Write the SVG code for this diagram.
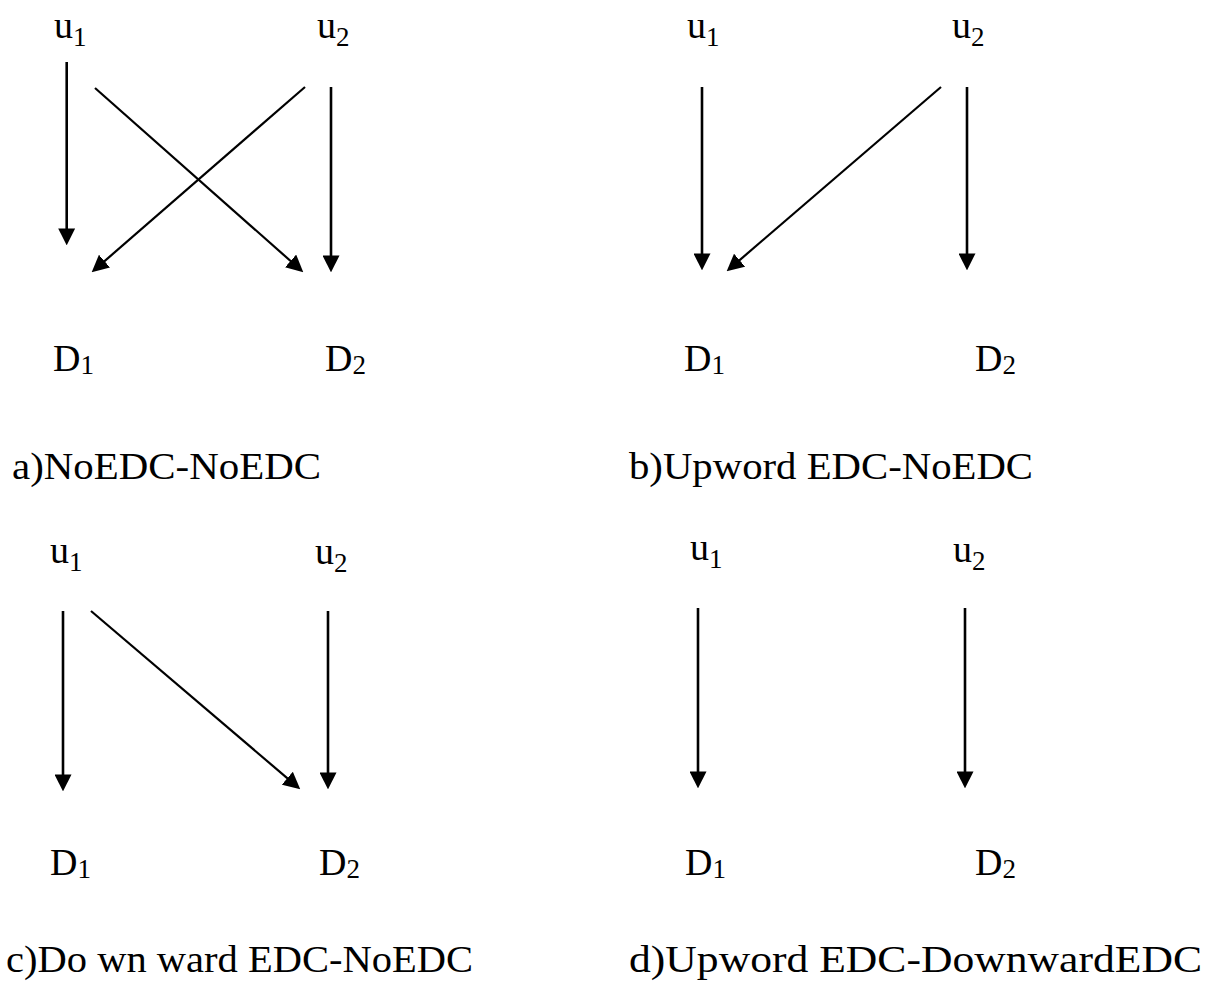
<svg xmlns="http://www.w3.org/2000/svg" width="1205" height="981" viewBox="0 0 1205 981">
<style>
text{font-family:"Liberation Serif","Times New Roman",serif;fill:#000}
.lbl{font-size:38px}
.sub{font-size:27px}
.cap{font-size:38px}
.v{stroke:#000;stroke-width:2.6;fill:none;marker-end:url(#ah)}
.d{stroke:#000;stroke-width:2.2;fill:none;marker-end:url(#ah)}
</style>
<defs>
<marker id="ah" viewBox="0 0 16 16" refX="10" refY="8" markerWidth="17" markerHeight="17" markerUnits="userSpaceOnUse" orient="auto">
<path d="M0,0 L16,8 L0,16 z" fill="#000"/>
</marker>
</defs>
<rect width="1205" height="981" fill="#fff"/>
<g id="connectors">
<line class="v" x1="66.7" y1="62" x2="66.7" y2="239"/>
<line class="d" x1="95" y1="88" x2="298.5" y2="268"/>
<line class="d" x1="305" y1="87" x2="96.5" y2="268.1"/>
<line class="v" x1="331" y1="87" x2="331" y2="266"/>
<line class="v" x1="702" y1="87" x2="702" y2="264"/>
<line class="d" x1="941" y1="87" x2="731.5" y2="267.1"/>
<line class="v" x1="967" y1="87" x2="967" y2="264"/>
<line class="v" x1="63" y1="611" x2="63" y2="785"/>
<line class="d" x1="91" y1="611" x2="295.4" y2="785.1"/>
<line class="v" x1="328" y1="611" x2="328" y2="783"/>
<line class="v" x1="698" y1="608" x2="698" y2="782"/>
<line class="v" x1="965" y1="608" x2="965" y2="782"/>
</g>
<g id="a-u1"><text class="lbl" x="54" y="38">u<tspan class="sub" dy="8">1</tspan></text></g>
<g id="a-u2"><text class="lbl" x="317" y="38">u<tspan class="sub" dy="8">2</tspan></text></g>
<g id="a-D1"><text class="lbl" x="53" y="371">D<tspan class="sub" dy="3">1</tspan></text></g>
<g id="a-D2"><text class="lbl" x="325" y="371">D<tspan class="sub" dy="3">2</tspan></text></g>
<g id="a-cap"><text class="cap" x="12" y="479" textLength="309" lengthAdjust="spacingAndGlyphs">a)NoEDC-NoEDC</text></g>
<g id="b-u1"><text class="lbl" x="687" y="38">u<tspan class="sub" dy="8">1</tspan></text></g>
<g id="b-u2"><text class="lbl" x="952" y="38">u<tspan class="sub" dy="8">2</tspan></text></g>
<g id="b-D1"><text class="lbl" x="684" y="371">D<tspan class="sub" dy="3">1</tspan></text></g>
<g id="b-D2"><text class="lbl" x="975" y="371">D<tspan class="sub" dy="3">2</tspan></text></g>
<g id="b-cap"><text class="cap" x="629" y="479" textLength="404" lengthAdjust="spacingAndGlyphs">b)Upword EDC-NoEDC</text></g>
<g id="c-u1"><text class="lbl" x="50" y="563">u<tspan class="sub" dy="8">1</tspan></text></g>
<g id="c-u2"><text class="lbl" x="315" y="564">u<tspan class="sub" dy="8">2</tspan></text></g>
<g id="c-D1"><text class="lbl" x="50" y="875">D<tspan class="sub" dy="3">1</tspan></text></g>
<g id="c-D2"><text class="lbl" x="319" y="875">D<tspan class="sub" dy="3">2</tspan></text></g>
<g id="c-cap"><text class="cap" x="6" y="972" textLength="467" lengthAdjust="spacingAndGlyphs">c)Do wn ward EDC-NoEDC</text></g>
<g id="d-u1"><text class="lbl" x="690" y="560">u<tspan class="sub" dy="8">1</tspan></text></g>
<g id="d-u2"><text class="lbl" x="953" y="562">u<tspan class="sub" dy="8">2</tspan></text></g>
<g id="d-D1"><text class="lbl" x="685" y="875">D<tspan class="sub" dy="3">1</tspan></text></g>
<g id="d-D2"><text class="lbl" x="975" y="875">D<tspan class="sub" dy="3">2</tspan></text></g>
<g id="d-cap"><text class="cap" x="629" y="972" textLength="573" lengthAdjust="spacingAndGlyphs">d)Upword EDC-DownwardEDC</text></g>
</svg>
